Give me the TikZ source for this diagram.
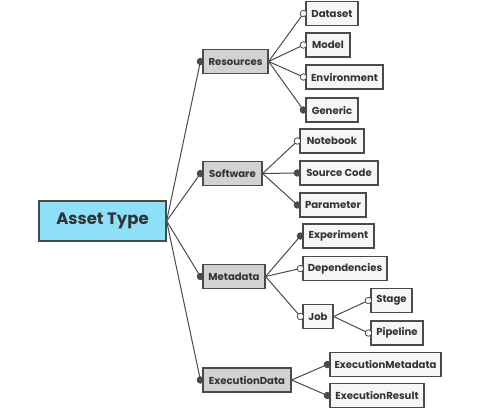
\documentclass[tikz,border=0pt]{standalone}
\usepackage{fontspec}
\setmainfont{Poppins}
\definecolor{rootfill}{HTML}{8EDFF8}
\definecolor{midfill}{HTML}{D2D2D2}
\definecolor{leaffill}{HTML}{F6F6F6}
\definecolor{edge}{HTML}{4A4A4A}
\definecolor{txt}{HTML}{333333}
\tikzset{
  box/.style={draw=edge, line width=1.2pt, minimum height=24pt, inner sep=0pt, text=txt, font=\bfseries\fontsize{10.1}{12}\selectfont},
  rootbox/.style={box, fill=rootfill, minimum height=40pt, minimum width=127pt, font=\bfseries\fontsize{16.5}{20}\selectfont},
  midbox/.style={box, fill=midfill},
  leafbox/.style={box, fill=leaffill},
  conn/.style={draw=edge, line width=1pt},
  dotf/.style={circle, fill=edge, draw=edge, line width=0.8pt, minimum size=6.5pt, inner sep=0pt},
  doth/.style={circle, fill=white, draw=edge, line width=0.8pt, minimum size=6.5pt, inner sep=0pt}
}
\newcommand{\linkto}[3]{\draw[conn] (#1.east) -- ([xshift=-2pt]#2.west) node[#3]{};}
\begin{document}
\begin{tikzpicture}[x=1pt,y=-1pt]
\useasboundingbox (0,0) rectangle (479,410);
\node[rootbox] (root) at (102.5,221) {Asset Type};
\node[midbox, minimum width=65pt] (res) at (235.5,61.5) {Resources};
\node[midbox, minimum width=59pt] (soft) at (232.5,173.5) {Software};
\node[midbox, minimum width=62pt] (meta) at (234,276.5) {Metadata};
\node[midbox, minimum width=88pt] (exec) at (247,380) {ExecutionData};
\node[leafbox, minimum width=52pt] (dataset) at (332,13.5) {Dataset};
\node[leafbox, minimum width=44pt] (model) at (328,45) {Model};
\node[leafbox, minimum width=77pt] (env) at (344.5,77) {Environment};
\node[leafbox, minimum width=52pt] (gen) at (332,110) {Generic};
\node[leafbox, minimum width=64pt] (nb) at (332,141) {Notebook};
\node[leafbox, minimum width=78pt] (src) at (339,173) {Source Code};
\node[leafbox, minimum width=66pt] (par) at (333,205) {Parameter};
\node[leafbox, minimum width=71pt] (expt) at (338.5,236) {Experiment};
\node[leafbox, minimum width=84pt] (dep) at (345,268.5) {Dependencies};
\node[leafbox, minimum width=30pt] (job) at (318,316.5) {Job};
\node[leafbox, minimum width=41pt] (stage) at (391.5,300.5) {Stage};
\node[leafbox, minimum width=52pt] (pipe) at (397,333) {Pipeline};
\node[leafbox, minimum width=111pt] (emeta) at (385.5,364.5) {ExecutionMetadata};
\node[leafbox, minimum width=94pt] (eres) at (377,395.5) {ExecutionResult};
\linkto{root}{res}{dotf}
\linkto{root}{soft}{dotf}
\linkto{root}{meta}{dotf}
\linkto{root}{exec}{dotf}
\linkto{res}{dataset}{doth}
\linkto{res}{model}{doth}
\linkto{res}{env}{doth}
\linkto{res}{gen}{dotf}
\linkto{soft}{nb}{doth}
\linkto{soft}{src}{dotf}
\linkto{soft}{par}{dotf}
\linkto{meta}{expt}{dotf}
\linkto{meta}{dep}{doth}
\linkto{meta}{job}{doth}
\linkto{job}{stage}{doth}
\linkto{job}{pipe}{doth}
\linkto{exec}{emeta}{dotf}
\linkto{exec}{eres}{dotf}
\end{tikzpicture}
\end{document}
